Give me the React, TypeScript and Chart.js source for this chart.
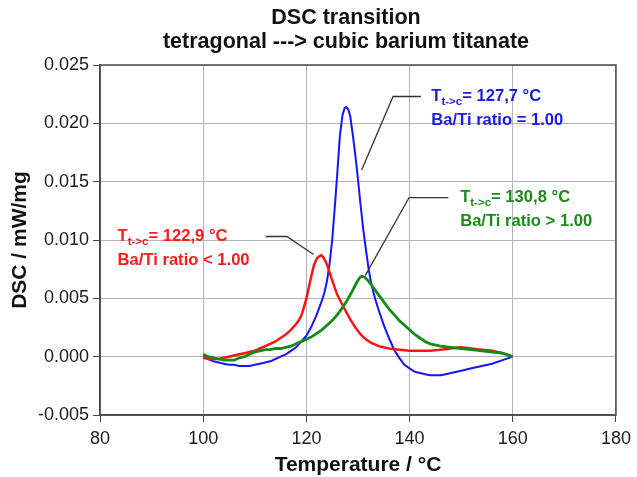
import React, { useEffect, useRef } from "react";
import { Chart, registerables } from "chart.js";

Chart.register(...registerables);

// ---------- data ----------
const xTickValues = [80, 100, 120, 140, 160, 180];
const yTickValues = [-0.005, 0, 0.005, 0.01, 0.015, 0.02, 0.025];

const chartTitle = ["DSC transition", "tetragonal ---> cubic barium titanate"];
const xAxisTitle = "Temperature / °C";
const yAxisTitle = "DSC / mW/mg";

// Ba/Ti ratio < 1.00 (red)
const redSeries: [number, number][] = [
  [100, -0.0001], [101, -0.0002], [102, -0.0002], [103, -0.0002], [104, -0.0001],
  [105, 0.0], [106, 0.0001], [107, 0.0002], [108, 0.0003], [109, 0.0004],
  [110, 0.0005], [111, 0.0007], [112, 0.0009], [113, 0.0011], [114, 0.0013],
  [115, 0.0016], [116, 0.0019], [117, 0.0023], [118, 0.0028], [118.5, 0.0031],
  [119, 0.0035], [119.5, 0.0042], [120, 0.005], [120.5, 0.006], [121, 0.007],
  [121.5, 0.0079], [122, 0.0084], [122.5, 0.0086], [122.9, 0.0087], [123.3, 0.0085],
  [123.8, 0.0081], [124.3, 0.0075], [124.8, 0.0068], [125.5, 0.0059], [126, 0.0053],
  [126.8, 0.0046], [127.5, 0.004], [128.5, 0.0032], [129.5, 0.0025], [130.5, 0.0019],
  [131.5, 0.0015], [132.5, 0.0012], [134, 0.0009], [136, 0.0007], [138, 0.0006],
  [140, 0.0005], [142, 0.0005], [144, 0.0005], [146, 0.0006], [148, 0.0007],
  [150, 0.0008], [152, 0.0007], [154, 0.0006], [156, 0.0005], [158, 0.0003],
  [160, 0.0],
];

// Ba/Ti ratio = 1.00 (blue)
const blueSeries: [number, number][] = [
  [100, 0.0], [101, -0.0002], [102, -0.0004], [103, -0.0005], [104, -0.0006],
  [105, -0.0007], [106, -0.0007], [107, -0.0008], [108, -0.0008], [109, -0.0008],
  [110, -0.0007], [111, -0.0006], [112, -0.0005], [113, -0.0004], [114, -0.0002],
  [115, 0.0], [116, 0.0002], [117, 0.0005], [118, 0.0008], [119, 0.0013],
  [120, 0.0018], [121, 0.0026], [122, 0.0036], [123, 0.0048], [123.5, 0.0055],
  [124, 0.0065], [124.5, 0.008], [125, 0.01], [125.5, 0.0128], [126, 0.0158],
  [126.5, 0.019], [127, 0.0207], [127.4, 0.0213], [127.7, 0.0214], [128.1, 0.0212],
  [128.5, 0.0206], [129, 0.019], [129.5, 0.0172], [130, 0.0152], [130.5, 0.013],
  [131, 0.011], [131.5, 0.0093], [132, 0.0077], [132.5, 0.0064], [133, 0.0055],
  [133.5, 0.0047], [134, 0.004], [135, 0.0027], [136, 0.0016], [137, 0.0006],
  [138, -0.0001], [139, -0.0007], [140, -0.001], [141, -0.0013], [142, -0.0014],
  [143, -0.0015], [144, -0.0016], [145, -0.0016], [146, -0.0016], [147, -0.0015],
  [148, -0.0014], [150, -0.0012], [152, -0.001], [154, -0.0008], [156, -0.0006],
  [158, -0.0003], [160, 0.0],
];

// Ba/Ti ratio > 1.00 (green)
const greenSeries: [number, number][] = [
  [100, 0.0002], [101, 0.0], [102, -0.0001], [103, -0.0002], [104, -0.0003],
  [105, -0.0003], [106, -0.0003], [107, -0.0001], [108, 0.0], [109, 0.0002],
  [110, 0.0004], [111, 0.0005], [112, 0.0006], [113, 0.0006], [114, 0.0007],
  [115, 0.0007], [116, 0.0008], [117, 0.0009], [118, 0.0011], [119, 0.0013],
  [120, 0.0015], [121, 0.0017], [122, 0.002], [123, 0.0023], [124, 0.0027],
  [125, 0.0031], [126, 0.0036], [127, 0.0042], [128, 0.0049], [129, 0.0057],
  [129.8, 0.0064], [130.4, 0.0068], [130.8, 0.0069], [131.3, 0.0068], [132, 0.0065],
  [133, 0.0059], [134, 0.0053], [135, 0.0047], [136, 0.0041], [137, 0.0036],
  [138, 0.0031], [139, 0.0027], [140, 0.0023], [141, 0.0019], [142, 0.0016],
  [143, 0.0013], [144, 0.0011], [146, 0.0009], [148, 0.0008], [150, 0.0007],
  [152, 0.0006], [154, 0.0005], [156, 0.0004], [158, 0.0003], [160, 0.0],
];

// annotations: transition temperature text, ratio text, leader line (data coords)
const redNote = { temp: "= 122,9 °C", ratio: "Ba/Ti ratio < 1.00", textAt: [83.4, 0.0103], leader: [[112.1, 0.0103], [116.2, 0.0103], [121.4, 0.00875]] };
const blueNote = { temp: "= 127,7 °C", ratio: "Ba/Ti ratio = 1.00", textAt: [144.2, 0.0223], leader: [[130.7, 0.016], [136.8, 0.0223], [142.2, 0.0223]] };
const greenNote = { temp: "= 130,8 °C", ratio: "Ba/Ti ratio > 1.00", textAt: [149.8, 0.01364], leader: [[131.4, 0.00695], [139.9, 0.01364], [147.5, 0.01364]] };

// ---------- styles ----------
const FONT = '"Liberation Sans", Arial, Helvetica, sans-serif';
const RED = "#ff1414";
const BLUE = "#1414ff";
const GREEN = "#168a16";
const RED_TXT = "#ff1a1a";
const BLUE_TXT = "#1a1ae6";
const GREEN_TXT = "#1a8c1a";

export default function App() {
  const ref = useRef<HTMLCanvasElement | null>(null);

  useEffect(() => {
    document.body.style.margin = "0";
    const canvas = ref.current;
    if (!canvas) return;

    const notes = [
      { ...redNote, color: RED_TXT },
      { ...blueNote, color: BLUE_TXT },
      { ...greenNote, color: GREEN_TXT },
    ];

    const decor = {
      id: "decor",
      afterDraw(chart: any) {
        const ctx = chart.ctx as CanvasRenderingContext2D;
        const xs = chart.scales.x;
        const ys = chart.scales.y;
        const area = chart.chartArea;
        ctx.save();
        // frame
        ctx.strokeStyle = "#4a4a4a";
        ctx.lineWidth = 1.5;
        ctx.strokeRect(area.left, area.top, area.right - area.left, area.bottom - area.top);

        // leaders + notes
        for (const n of notes) {
          ctx.strokeStyle = "#333";
          ctx.lineWidth = 1.3;
          ctx.beginPath();
          n.leader.forEach((p, i) => {
            const px = xs.getPixelForValue(p[0]);
            const py = ys.getPixelForValue(p[1]);
            if (i === 0) ctx.moveTo(px, py);
            else ctx.lineTo(px, py);
          });
          ctx.stroke();

          let tx = xs.getPixelForValue(n.textAt[0]);
          const ty = ys.getPixelForValue(n.textAt[1]);
          ctx.fillStyle = n.color;
          ctx.textBaseline = "middle";
          ctx.textAlign = "left";
          ctx.font = `bold 16.6px ${FONT}`;
          ctx.fillText("T", tx, ty);
          const startX = tx;
          tx += ctx.measureText("T").width;
          ctx.font = `bold 11.5px ${FONT}`;
          ctx.fillText("t->c", tx, ty + 5);
          tx += ctx.measureText("t->c").width;
          ctx.font = `bold 16.6px ${FONT}`;
          ctx.fillText(n.temp, tx, ty);
          ctx.fillText(n.ratio, startX, ty + 24);
        }

        // titles
        ctx.fillStyle = "#111";
        ctx.textAlign = "center";
        ctx.textBaseline = "middle";
        ctx.font = `bold 21.5px ${FONT}`;
        ctx.fillText(chartTitle[0], 346, 18);
        ctx.fillText(chartTitle[1], 346, 42);
        ctx.font = `bold 21px ${FONT}`;
        ctx.fillText(xAxisTitle, (area.left + area.right) / 2, 465);
        ctx.save();
        ctx.translate(20, (area.top + area.bottom) / 2);
        ctx.rotate(-Math.PI / 2);
        ctx.fillText(yAxisTitle, 0, 0);
        ctx.restore();
        ctx.restore();
      },
    };

    const mk = (d: [number, number][], color: string, w: number) => ({
      data: d.map(([x, y]) => ({ x, y })),
      borderColor: color,
      borderWidth: w,
      pointRadius: 0,
      tension: 0,
      fill: false,
    });

    const chart = new Chart(canvas, {
      type: "line",
      data: {
        datasets: [
          mk(greenSeries, GREEN, 2.8),
          mk(redSeries, RED, 2.5),
          mk(blueSeries, BLUE, 2),
        ] as any,
      },
      options: {
        animation: false,
        responsive: false,
        maintainAspectRatio: false,
        parsing: false as any,
        layout: { padding: { top: 65, right: 18, left: 0, bottom: 0 } },
        plugins: { legend: { display: false }, tooltip: { enabled: false }, title: { display: false } },
        scales: {
          x: {
            type: "linear",
            min: xTickValues[0],
            max: xTickValues[xTickValues.length - 1],
            afterBuildTicks: (s: any) => { s.ticks = xTickValues.map((v) => ({ value: v })); },
            afterFit: (s: any) => { s.height = 62; },
            grid: { color: "#b4b4b4", lineWidth: 1, tickLength: 7, tickColor: "#444" },
            border: { display: true, color: "#4a4a4a", width: 1.5 },
            ticks: { color: "#1a1a1a", font: { family: FONT, size: 18 }, padding: 6, maxRotation: 0 },
          },
          y: {
            type: "linear",
            min: yTickValues[0],
            max: yTickValues[yTickValues.length - 1],
            afterBuildTicks: (s: any) => { s.ticks = yTickValues.map((v) => ({ value: v })); },
            afterFit: (s: any) => { s.width = 100; },
            grid: { color: "#b4b4b4", lineWidth: 1, tickLength: 7, tickColor: "#444" },
            border: { display: true, color: "#4a4a4a", width: 1.5 },
            ticks: {
              color: "#1a1a1a",
              font: { family: FONT, size: 18 },
              padding: 4,
              callback: (v: any) => Number(v).toFixed(3),
            },
          },
        },
      } as any,
      plugins: [decor],
    });

    return () => chart.destroy();
  }, []);

  return (
    <div style={{ position: "absolute", left: 0, top: 0, width: 637, height: 477, background: "#fff" }}>
      <canvas ref={ref} width={637} height={477} style={{ width: 637, height: 477, display: "block" }} />
    </div>
  );
}
